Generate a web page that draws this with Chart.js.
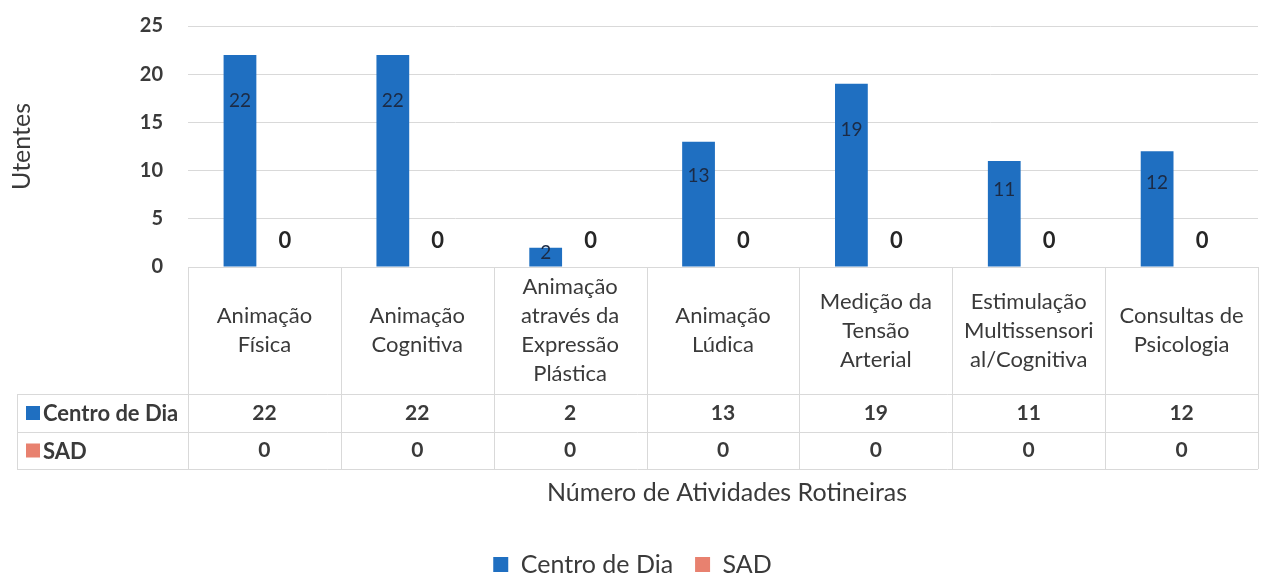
<!DOCTYPE html>
<html>
<head>
<meta charset="utf-8">
<script src="https://cdn.jsdelivr.net/npm/chart.js@4/dist/chart.umd.min.js"></script>
<style>
  html, body { margin: 0; padding: 0; background: #ffffff; }
  #wrap { position: relative; width: 1266px; height: 574px; }
</style>
</head>
<body>
<div id="wrap"><canvas id="c" width="1266" height="574"></canvas></div>
<script>
const categories = [
  ["Animação", "Física"],
  ["Animação", "Cognitiva"],
  ["Animação", "através da", "Expressão", "Plástica"],
  ["Animação", "Lúdica"],
  ["Medição da", "Tensão", "Arterial"],
  ["Estimulação", "Multissensori", "al/Cognitiva"],
  ["Consultas de", "Psicologia"]
];
const seriesNames = ["Centro de Dia", "SAD"];
const centroDeDia = [22, 22, 2, 13, 19, 11, 12];
const sad = [0, 0, 0, 0, 0, 0, 0];
const yTicks = [0, 5, 10, 15, 20, 25];
const yTitle = "Utentes";
const xTitle = "Número de Atividades Rotineiras";

const BLUE = "#1f6fc1";
const SALMON = "#e8816f";
const TEXT = "#3a3a3a";
const FONT = "Lato, 'Noto Sans', sans-serif";

const TABLE_TOP_ROW = 394, TABLE_ROW2 = 432, TABLE_BOTTOM = 469, TABLE_LEFT = 17;

const tablePlugin = {
  id: "tablePlugin",
  afterDatasetsDraw(chart) {
    const ctx = chart.ctx;
    const ys = chart.scales.y;
    const base = ys.getPixelForValue(0);
    ctx.save();
    ctx.textAlign = "center";
    ctx.textBaseline = "middle";
    const m0 = chart.getDatasetMeta(0);
    m0.data.forEach((bar, i) => {
      const h = base - bar.y;
      const off = Math.min(46, h * 0.27);
      ctx.font = "19px " + FONT;
      ctx.fillStyle = "#1c2b45";
      ctx.fillText(String(centroDeDia[i]), bar.x, bar.y + off);
    });
    const m1 = chart.getDatasetMeta(1);
    m1.data.forEach((bar, i) => {
      ctx.font = "bold 22px " + FONT;
      ctx.fillStyle = "#262626";
      ctx.fillText(String(sad[i]), bar.x - 4, base - 26);
    });
    ctx.restore();
  },
  afterDraw(chart) {
    const ctx = chart.ctx;
    const xs = chart.scales.x;
    const area = chart.chartArea;
    const n = categories.length;
    const cw = (area.right - area.left) / n;
    const base = area.bottom;
    ctx.save();
    ctx.strokeStyle = "#d9d9d9";
    ctx.lineWidth = 1;
    ctx.beginPath();
    ctx.moveTo(area.left, base + 0.5); ctx.lineTo(area.right, base + 0.5);
    [TABLE_TOP_ROW, TABLE_ROW2, TABLE_BOTTOM].forEach(y => {
      ctx.moveTo(TABLE_LEFT, y + 0.5); ctx.lineTo(area.right, y + 0.5);
    });
    for (let i = 0; i <= n; i++) {
      const x = Math.round(area.left + i * cw) + 0.5;
      ctx.moveTo(x, base); ctx.lineTo(x, TABLE_BOTTOM);
    }
    ctx.moveTo(TABLE_LEFT + 0.5, TABLE_TOP_ROW); ctx.lineTo(TABLE_LEFT + 0.5, TABLE_BOTTOM);
    ctx.stroke();

    ctx.fillStyle = TEXT;
    ctx.textAlign = "center";
    ctx.textBaseline = "middle";
    ctx.font = "22px " + FONT;
    const lh = 29;
    const rowMid = (base + TABLE_TOP_ROW) / 2;
    categories.forEach((lines, i) => {
      const cx = xs.getPixelForValue(i);
      const y0 = rowMid - (lines.length - 1) * lh / 2;
      lines.forEach((t, k) => ctx.fillText(t, cx, y0 + k * lh));
    });
    ctx.font = "bold 21px " + FONT;
    const r1 = (TABLE_TOP_ROW + TABLE_ROW2) / 2, r2 = (TABLE_ROW2 + TABLE_BOTTOM) / 2;
    centroDeDia.forEach((v, i) => ctx.fillText(String(v), xs.getPixelForValue(i), r1));
    sad.forEach((v, i) => ctx.fillText(String(v), xs.getPixelForValue(i), r2));
    ctx.textAlign = "left";
    ctx.font = "bold 22px " + FONT;
    [[seriesNames[0], BLUE, r1], [seriesNames[1], SALMON, r2]].forEach(([t, c, y]) => {
      ctx.fillStyle = c;
      ctx.fillRect(26, y - 7, 14, 14);
      ctx.fillStyle = TEXT;
      ctx.fillText(t, 43, y + 1);
    });
    ctx.textAlign = "center";
    ctx.font = "25px " + FONT;
    ctx.fillText(xTitle, 727, 493);
    ctx.restore();
  }
};

new Chart(document.getElementById("c"), {
  type: "bar",
  data: {
    labels: categories.map(c => c.join(" ")),
    datasets: [
      { label: seriesNames[0], data: centroDeDia, backgroundColor: BLUE, borderWidth: 0,
        categoryPercentage: 0.64, barPercentage: 0.67 },
      { label: seriesNames[1], data: sad, backgroundColor: SALMON, borderWidth: 0,
        categoryPercentage: 0.64, barPercentage: 0.67 }
    ]
  },
  options: {
    responsive: false,
    animation: false,
    devicePixelRatio: 1,
    layout: { padding: { top: 26, left: 7, right: 8, bottom: -13 } },
    plugins: {
      legend: {
        display: true,
        position: "bottom",
        labels: {
          color: TEXT,
          font: { family: FONT, size: 25 },
          boxWidth: 15, boxHeight: 15,
          padding: 22
        }
      },
      tooltip: { enabled: false }
    },
    scales: {
      x: {
        grid: { display: false, drawTicks: false },
        border: { display: false },
        ticks: { display: false },
        afterFit(scale) { scale.height = 263; }
      },
      y: {
        min: 0, max: 25,
        afterBuildTicks(scale) { scale.ticks = yTicks.map(v => ({ value: v })); },
        grid: { color: "#d9d9d9", drawTicks: true, tickLength: 25, tickColor: "rgba(0,0,0,0)" },
        border: { display: false },
        ticks: { color: TEXT, font: { family: FONT, size: 20, weight: "bold" }, padding: 0 },
        title: { display: true, text: yTitle, color: TEXT, font: { family: FONT, size: 25 }, padding: { top: 0, bottom: 0 } },
        afterFit(scale) { scale.width = 181; }
      }
    }
  },
  plugins: [tablePlugin]
});
</script>
</body>
</html>
